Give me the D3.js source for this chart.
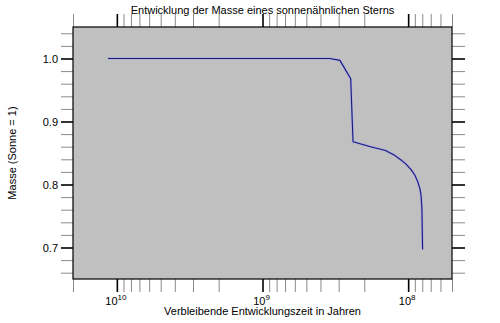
<!DOCTYPE html>
<html>
<head>
<meta charset="utf-8">
<script src="https://cdn.jsdelivr.net/npm/d3@7"></script>
<style>
  body { margin: 0; background: #fff; }
  svg { display: block; font-family: "Liberation Sans", Arial, sans-serif; }
</style>
</head>
<body>
<div id="chart"></div>
<script>
// ----- Data -----
const years = [1.15e10, 3.45e8, 2.94e8, 2.48e8, 2.39e8, 1.81e8, 1.43e8, 1.25e8, 1.12e8, 1.03e8, 9.58e7, 9.0e7, 8.61e7, 8.3e7, 8.17e7, 8.05e7, 7.96e7];
const mass  = [1.000,   1.000,  0.997,  0.968,  0.868,  0.860,  0.854,  0.847,  0.839,  0.832,  0.824,  0.815,  0.805,  0.793,  0.784,  0.763,  0.697];

const xMajorTicks = [1e10, 1e9, 1e8];
const xTickExp    = ["10", "9", "8"];
const yMajorTicks = [0.7, 0.8, 0.9, 1.0];

const title  = "Entwicklung der Masse eines sonnenähnlichen Sterns";
const xLabel = "Verbleibende Entwicklungszeit in Jahren";
const yLabel = "Masse (Sonne = 1)";

// ----- Layout -----
const width  = 500;
const height = 323;
const margin = { top: 27, right: 48, bottom: 44, left: 73 };
const innerWidth  = width  - margin.left - margin.right;
const innerHeight = height - margin.top  - margin.bottom;

const svg = d3.select("#chart")
  .append("svg")
  .attr("width", width)
  .attr("height", height);

const g = svg.append("g")
  .attr("transform", `translate(${margin.left},${margin.top})`);

const x = d3.scaleLog()
  .domain([2e10, 5e7])
  .range([0, innerWidth]);

const y = d3.scaleLinear()
  .domain([0.65, 1.05])
  .range([innerHeight, 0]);

// plot background
g.append("rect")
  .attr("width", innerWidth)
  .attr("height", innerHeight)
  .attr("fill", "#c0c0c0");

const isMajorX = v => xMajorTicks.some(m => Math.abs(v - m) / m < 1e-6);
const isMajorY = v => yMajorTicks.some(m => Math.abs(v - m) < 1e-6);

const xTicks = x.ticks();
const yTicks = y.ticks(20);

function styleAxis(sel, isMajor) {
  sel.select(".domain").remove();
  sel.selectAll(".tick line")
    .attr("stroke", d => isMajor(d) ? "#000" : "#8a8a8a")
    .attr("stroke-width", d => isMajor(d) ? 1.6 : 1);
  sel.selectAll(".tick text").remove();
}

// x axes (bottom + top)
g.append("g")
  .attr("transform", `translate(0,${innerHeight})`)
  .call(d3.axisBottom(x).tickValues(xTicks).tickSize(13).tickSizeOuter(0).tickFormat(""))
  .call(s => styleAxis(s, isMajorX));

g.append("g")
  .call(d3.axisTop(x).tickValues(xTicks).tickSize(13).tickSizeOuter(0).tickFormat(""))
  .call(s => styleAxis(s, isMajorX));

// y axes (left + right)
g.append("g")
  .call(d3.axisLeft(y).tickValues(yTicks).tickSize(12).tickSizeOuter(0).tickFormat(""))
  .call(s => styleAxis(s, isMajorY));

g.append("g")
  .attr("transform", `translate(${innerWidth},0)`)
  .call(d3.axisRight(y).tickValues(yTicks).tickSize(13).tickSizeOuter(0).tickFormat(""))
  .call(s => styleAxis(s, isMajorY));

// plot border
g.append("rect")
  .attr("width", innerWidth)
  .attr("height", innerHeight)
  .attr("fill", "none")
  .attr("stroke", "#000")
  .attr("stroke-width", 1.2);

// x tick labels with superscript
xMajorTicks.forEach((v, i) => {
  const t = g.append("text")
    .attr("x", x(v) - 1)
    .attr("y", innerHeight + 26)
    .attr("text-anchor", "middle")
    .attr("font-size", 11)
    .attr("fill", "#000");
  t.append("tspan").text("10");
  t.append("tspan")
    .attr("dy", -5)
    .attr("font-size", 8)
    .text(xTickExp[i]);
});

// y tick labels
g.selectAll(".y-label")
  .data(yMajorTicks)
  .enter()
  .append("text")
  .attr("class", "y-label")
  .attr("x", -15)
  .attr("y", d => y(d) + 4)
  .attr("text-anchor", "end")
  .attr("font-size", 11)
  .attr("fill", "#000")
  .text(d => d.toFixed(1));

// data line
const pts = years.map((t, i) => [t, mass[i]]);
const line = d3.line()
  .x(d => x(d[0]))
  .y(d => y(d[1]));

g.append("path")
  .datum(pts)
  .attr("fill", "none")
  .attr("stroke", "#a4a4e4")
  .attr("stroke-width", 2.2)
  .attr("stroke-linejoin", "round")
  .attr("d", line);

g.append("path")
  .datum(pts)
  .attr("fill", "none")
  .attr("stroke", "#1a1a78")
  .attr("stroke-width", 1.1)
  .attr("stroke-linejoin", "round")
  .attr("d", line);

// title & axis labels
svg.append("text")
  .attr("x", margin.left + innerWidth / 2)
  .attr("y", 14)
  .attr("text-anchor", "middle")
  .attr("font-size", 11)
  .attr("fill", "#000")
  .text(title);

svg.append("text")
  .attr("x", margin.left + innerWidth / 2)
  .attr("y", 315)
  .attr("text-anchor", "middle")
  .attr("font-size", 11)
  .attr("fill", "#000")
  .text(xLabel);

svg.append("text")
  .attr("transform", `translate(16,${margin.top + innerHeight / 2}) rotate(-90)`)
  .attr("text-anchor", "middle")
  .attr("font-size", 11)
  .attr("fill", "#000")
  .text(yLabel);
</script>
</body>
</html>
